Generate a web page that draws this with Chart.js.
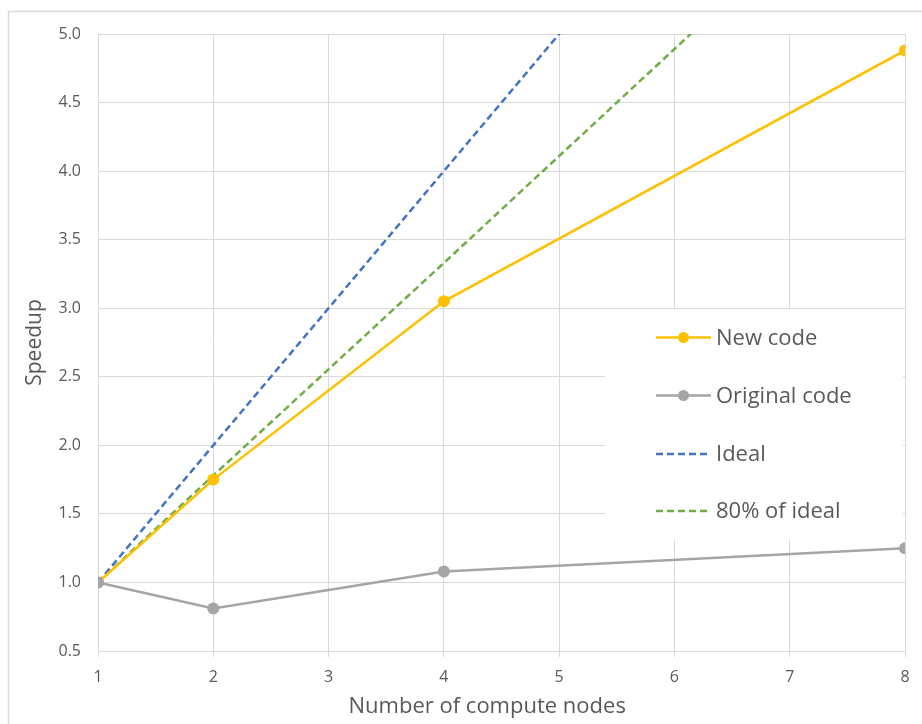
<!DOCTYPE html>
<html>
<head>
<meta charset="utf-8">
<script src="https://cdn.jsdelivr.net/npm/chart.js@4"></script>
<style>
body{margin:0;background:#fff;}
#wrap{width:922px;height:724px;position:relative;}
</style>
</head>
<body>
<div id="wrap"><canvas id="chart" width="922" height="724"></canvas></div>
<script>
// values
let nodes = [1, 2, 4, 8];
let newCode = [1.0, 1.75, 3.05, 4.88];
let originalCode = [1.0, 0.81, 1.08, 1.25];
let ideal = [1, 2, 4, 8];
let ideal80 = [1.0, 1.78, 3.33, 6.45];
let seriesNames = ['New code', 'Original code', 'Ideal', '80% of ideal'];

let font = '"Open Sans", "Noto Sans", sans-serif';
let txt = '#595959', grid = '#d9d9d9';

function pts(ys){ return nodes.map((x,i)=>({x:x, y:ys[i]})); }

// white page and the thin chart frame
let framePlugin = {
    id:'frame',
    beforeDraw(chart){
        let c = chart.ctx;
        c.save();
        c.fillStyle = '#fff';
        c.fillRect(0,0,chart.width,chart.height);
        c.strokeStyle = grid;
        c.lineWidth = 1.5;
        c.strokeRect(8.5, 11.5, 940, 740);
        c.restore();
    }
};

// legend box inside the plot, over the gridlines
let legendPlugin = {
    id:'boxLegend',
    beforeDatasetsDraw(chart){
        let c = chart.ctx;
        c.save();
        c.fillStyle = '#fff';
        c.fillRect(605, 309, 298, 231);
        let rows = [337.5, 395.5, 454, 511];
        seriesNames.forEach((name,i)=>{
            let ds = chart.data.datasets.find(d=>d.label===name);
            let y = rows[i];
            c.strokeStyle = ds.borderColor;
            c.lineWidth = ds.borderWidth;
            c.setLineDash(ds.borderDash || []);
            c.beginPath(); c.moveTo(656, y); c.lineTo(711, y); c.stroke();
            c.setLineDash([]);
            if(ds.pointRadius > 0){
                c.fillStyle = ds.pointBackgroundColor;
                c.beginPath(); c.arc(683.5, y, 5.5, 0, Math.PI*2); c.fill();
            }
            c.fillStyle = txt;
            c.font = '22px ' + font;
            c.textBaseline = 'middle';
            c.fillText(name, 716, y+1);
        });
        c.restore();
    }
};

let ctx = document.getElementById('chart').getContext('2d');
new Chart(ctx,{
    type:'line',
    data:{datasets:[
        {label:'Original code', data:pts(originalCode), borderColor:'#a5a5a5', backgroundColor:'#a5a5a5', pointBackgroundColor:'#a5a5a5', pointBorderWidth:0, borderWidth:2.5, pointRadius:6, order:0},
        {label:'New code', data:pts(newCode), borderColor:'#ffc000', backgroundColor:'#ffc000', pointBackgroundColor:'#ffc000', pointBorderWidth:0, borderWidth:2.5, pointRadius:6, order:1},
        {label:'80% of ideal', data:pts(ideal80), borderColor:'#70ad47', borderDash:[7,4], borderWidth:2.5, pointRadius:0, order:2},
        {label:'Ideal', data:pts(ideal), borderColor:'#4472c4', borderDash:[7,4], borderWidth:2.5, pointRadius:0, order:3}
    ]},
    options:{
        responsive:false,
        animation:false,
        layout:{padding:{left:0, top:34, right:17, bottom:0}},
        plugins:{legend:{display:false}, tooltip:{enabled:false}},
        scales:{
            x:{
                type:'linear', min:1, max:8,
                afterFit(s){ s.height = 73; },
                ticks:{stepSize:1, color:txt, padding:11, font:{family:font, size:16}},
                grid:{color:grid, lineWidth:1, drawTicks:true, tickLength:6, tickColor:grid},
                border:{color:grid, width:1},
                // trailing spaces nudge the centred title a little left, as in the reference
                title:{display:true, text:'Number of compute nodes     ', color:txt, font:{family:font, size:22}, padding:{top:0, bottom:4}}
            },
            y:{
                min:0.5, max:5,
                afterFit(s){ s.width = 98; },
                ticks:{stepSize:0.5, color:txt, padding:17, font:{family:font, size:16}, callback:v=>v.toFixed(1)},
                grid:{color:grid, lineWidth:1, drawTicks:false},
                border:{color:grid, width:1},
                title:{display:true, text:'Speedup', color:txt, font:{family:font, size:21}, padding:{top:22, bottom:0}}
            }
        }
    },
    plugins:[framePlugin, legendPlugin]
});
</script>
</body>
</html>
